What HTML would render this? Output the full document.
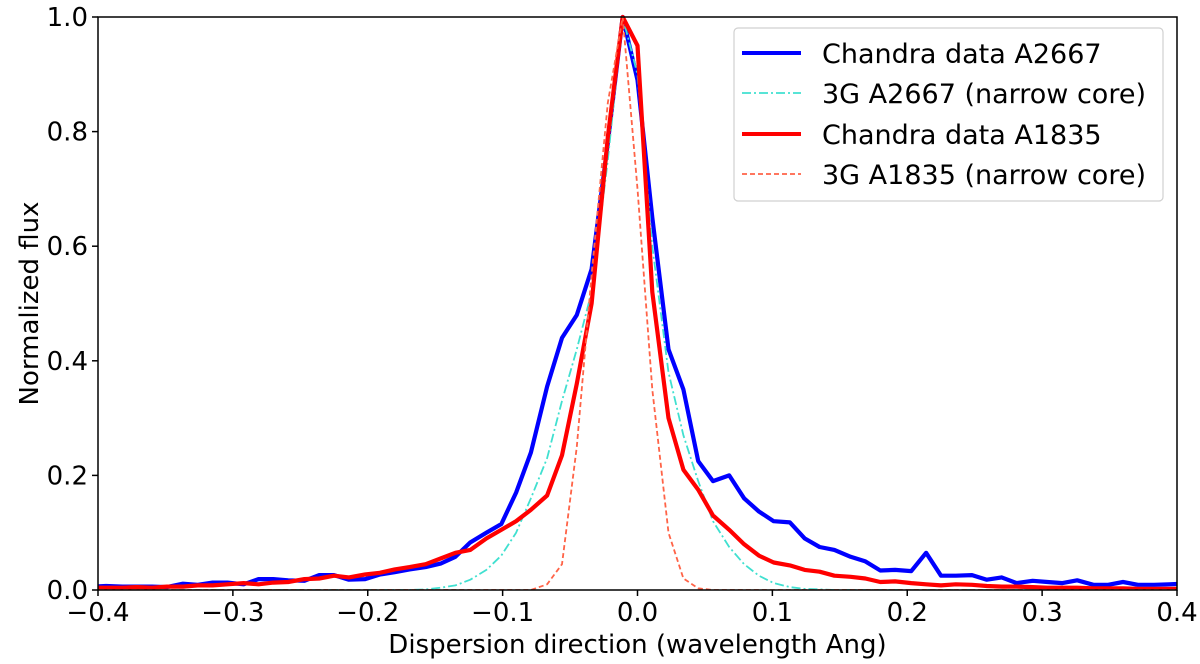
<!DOCTYPE html>
<html><head><meta charset="utf-8"><style>
html,body{margin:0;padding:0;background:#fff;}
svg{display:block;font-family:"DejaVu Sans","Liberation Sans",sans-serif;}
</style></head><body>
<svg id="chart" width="1200" height="664" viewBox="0 0 1200 664">
<g id="plot"></g>
<g id="axes"></g>
<g id="legend">
<rect x="734" y="28" width="429" height="173" rx="4" fill="#fff" fill-opacity="0.85" stroke="#d0d0d0" stroke-width="1.2"/>
<line x1="742" y1="53" x2="801" y2="53" stroke="#0000ff" stroke-width="4"/>
<text x="822" y="63" font-size="27">Chandra data A2667</text>
<line x1="742" y1="93" x2="801" y2="93" stroke="#40e0d0" stroke-width="1.8" stroke-dasharray="9,3,2,3"/>
<text x="822" y="103" font-size="27">3G A2667 (narrow core)</text>
<line x1="742" y1="134" x2="801" y2="134" stroke="#ff0000" stroke-width="4"/>
<text x="822" y="144" font-size="27">Chandra data A1835</text>
<line x1="742" y1="174" x2="801" y2="174" stroke="#ff6347" stroke-width="1.8" stroke-dasharray="5,3"/>
<text x="822" y="184" font-size="27">3G A1835 (narrow core)</text>
</g>
</svg>
<script>
const xValues = [-0.405,-0.394,-0.382,-0.371,-0.360,-0.349,-0.337,-0.326,-0.315,-0.304,-0.292,-0.281,-0.270,-0.259,-0.247,-0.236,-0.225,-0.214,-0.202,-0.191,-0.180,-0.169,-0.157,-0.146,-0.135,-0.124,-0.112,-0.101,-0.090,-0.079,-0.067,-0.056,-0.045,-0.034,-0.022,-0.011,0.000,0.011,0.023,0.034,0.045,0.056,0.068,0.079,0.090,0.101,0.113,0.124,0.135,0.146,0.158,0.169,0.180,0.191,0.203,0.214,0.225,0.236,0.248,0.259,0.270,0.281,0.293,0.304,0.315,0.326,0.338,0.349,0.360,0.371,0.383,0.394,0.405];
const blueA2667 = [0.006,0.007,0.006,0.006,0.006,0.005,0.011,0.009,0.013,0.013,0.010,0.019,0.019,0.017,0.016,0.026,0.026,0.018,0.019,0.027,0.031,0.036,0.040,0.046,0.058,0.083,0.100,0.115,0.170,0.240,0.355,0.440,0.480,0.560,0.78,1.0,0.89,0.65,0.42,0.35,0.225,0.19,0.20,0.16,0.137,0.12,0.118,0.09,0.075,0.07,0.058,0.05,0.034,0.035,0.033,0.065,0.025,0.025,0.026,0.018,0.022,0.012,0.016,0.014,0.012,0.017,0.009,0.009,0.014,0.009,0.009,0.010,0.011];
const fitA2667 = [0,0,0,0,0,0,0,0,0,0,0,0,0,0,0,0,0,0,0,0,0,0,0.001,0.004,0.008,0.018,0.035,0.06,0.10,0.16,0.23,0.33,0.42,0.52,0.75,1.0,0.9,0.6,0.38,0.27,0.19,0.12,0.075,0.045,0.025,0.012,0.005,0.002,0.001,0,0,0,0,0,0,0,0,0,0,0,0,0,0,0,0,0,0,0,0,0,0,0,0];
const redA1835 = [0.004,0.004,0.004,0.005,0.004,0.006,0.006,0.008,0.008,0.010,0.012,0.010,0.013,0.014,0.019,0.020,0.025,0.022,0.027,0.030,0.036,0.040,0.045,0.055,0.065,0.070,0.090,0.105,0.120,0.140,0.165,0.235,0.36,0.50,0.79,1.0,0.95,0.52,0.30,0.21,0.175,0.13,0.105,0.08,0.06,0.048,0.043,0.035,0.032,0.025,0.023,0.02,0.014,0.015,0.012,0.01,0.008,0.01,0.009,0.007,0.006,0.006,0.005,0.004,0.004,0.004,0.003,0.003,0.003,0.002,0.002,0.002,0.002];
const fitA1835 = [0,0,0,0,0,0,0,0,0,0,0,0,0,0,0,0,0,0,0,0,0,0,0,0,0,0,0,0,0,0,0.01,0.045,0.25,0.55,0.85,1.0,0.7,0.35,0.1,0.02,0.003,0,0,0,0,0,0,0,0,0,0,0,0,0,0,0,0,0,0,0,0,0,0,0,0,0,0,0,0,0,0,0,0];
const xTicks = [-0.4,-0.3,-0.2,-0.1,0.0,0.1,0.2,0.3,0.4];
const xTickLabels = ["\u22120.4","\u22120.3","\u22120.2","\u22120.1","0.0","0.1","0.2","0.3","0.4"];
const yTicks = [0,0.2,0.4,0.6,0.8,1.0];
const yTickLabels = ["0.0","0.2","0.4","0.6","0.8","1.0"];

const L=98,R=1177,T=17,B=590;
const NS="http://www.w3.org/2000/svg";
function sx(v){return L+(v+0.4)/0.8*(R-L);}
function sy(v){return B-v*(B-T);}
function mk(tag,attrs,parent){const e=document.createElementNS(NS,tag);for(const k in attrs)e.setAttribute(k,attrs[k]);parent.appendChild(e);return e;}
const plot=document.getElementById('plot'), axes=document.getElementById('axes');
const defs=mk('defs',{},plot);
const cp=mk('clipPath',{id:'clip'},defs);
mk('rect',{x:L,y:T-3,width:R-L,height:B-T+3},cp);
function series(vals,color,w,dash,name){
  const d=vals.map((v,i)=>(i?'L':'M')+sx(xValues[i]).toFixed(1)+','+sy(v).toFixed(1)).join(' ');
  const p=mk('path',{d:d,fill:'none',stroke:color,'stroke-width':w,'stroke-linejoin':'round','clip-path':'url(#clip)'},plot);
  if(dash)p.setAttribute('stroke-dasharray',dash);
  
  
}
series(blueA2667,'#0000ff',4.2,null,'series-a2667-data');
series(fitA2667,'#40e0d0',1.8,'9,3,2,3','series-a2667-fit');
series(redA1835,'#ff0000',4.2,null,'series-a1835-data');
series(fitA1835,'#ff6347',1.8,'5,3','series-a1835-fit');
const frame=mk('rect',{x:L,y:T,width:R-L,height:B-T,fill:'none',stroke:'#000','stroke-width':1.5},axes);


xTicks.forEach((t,i)=>{
  const x=sx(t);
  const tk=mk('line',{x1:x,y1:B,x2:x,y2:B+6,stroke:'#000','stroke-width':1.5},axes);
  
  
  const tx=mk('text',{x:x,y:B+31,'font-size':26,'text-anchor':'middle'},axes);
  tx.textContent=xTickLabels[i];
  
  
});
yTicks.forEach((t,i)=>{
  const y=sy(t);
  const tk=mk('line',{x1:L-6,y1:y,x2:L,y2:y,stroke:'#000','stroke-width':1.5},axes);
  
  
  const tx=mk('text',{x:L-10,y:y+9,'font-size':26,'text-anchor':'end'},axes);
  tx.textContent=yTickLabels[i];
  
  
});
const xl=mk('text',{x:(L+R)/2,y:653,'font-size':26,'text-anchor':'middle'},axes);
xl.textContent='Dispersion direction (wavelength Ang)';


const yl=mk('text',{x:0,y:0,'font-size':26,'text-anchor':'middle',transform:'translate(38,'+((T+B)/2)+') rotate(-90)'},axes);
yl.textContent='Normalized flux';


</script>
</body></html>
